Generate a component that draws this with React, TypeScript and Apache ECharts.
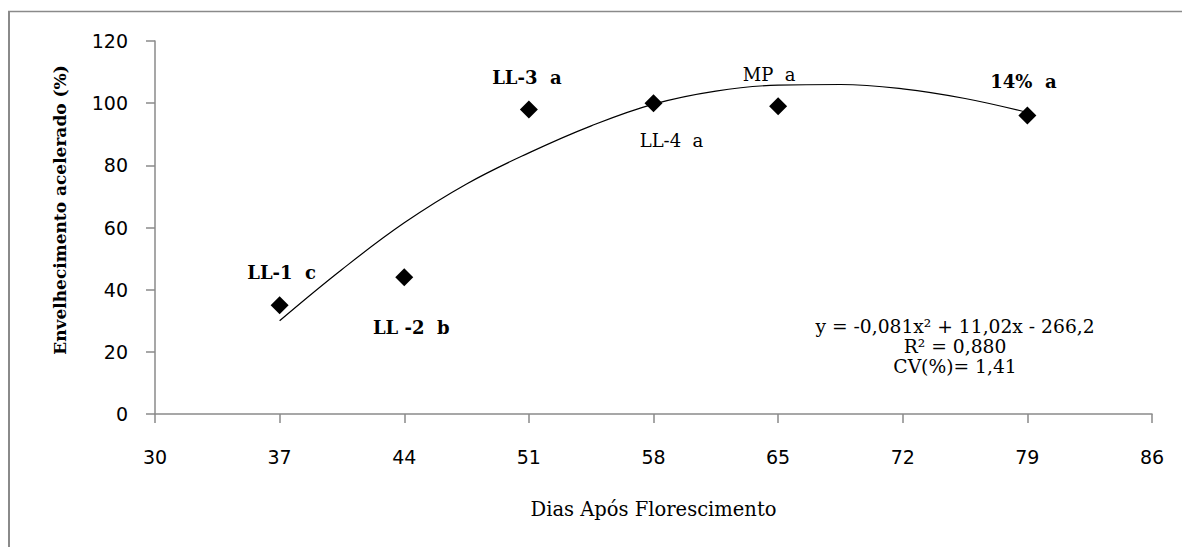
import React, { useEffect, useRef } from "react";
import * as echarts from "echarts";

// Observed points (Dias Após Florescimento, Envelhecimento acelerado %)
const pointDays = [37, 44, 51, 58, 65, 79];
const pointValues = [35, 44, 98, 100, 99, 96];
const pointNames = ["LL-1", "LL -2", "LL-3", "LL-4", "MP", "14%"];
const pointLetters = ["c", "b", "a", "a", "a", "a"];

// Fitted curve
const curveDays = [37, 40.5, 44, 47.5, 51, 54.5, 58, 61.5, 65, 68.5, 72, 75.5, 79];
const curveValues = [30, 46.5, 61.5, 74, 84, 92.7, 99.7, 103.9, 105.8, 106, 104.6, 101.5, 97];

const xTicks = [30, 86, 7];
const yTicks = [0, 120, 20];

const equationLines = ["y = -0,081x\u00b2 + 11,02x - 266,2", "R\u00b2 = 0,880", "CV(%)= 1,41"];

const labelOffsets: number[][] = [
  [2, -33],
  [7, 50],
  [-2, -32],
  [18, 37],
  [-9, -32],
  [-4, -34],
];
const labelWeights = ["bold", "bold", "bold", "normal", "normal", "bold"];

export default function App() {
  const ref = useRef<HTMLDivElement>(null);
  useEffect(() => {
    if (!ref.current) return;
    const chart = echarts.init(ref.current, undefined, { renderer: "svg" });
    const serif = "'DejaVu Serif', 'Liberation Serif', serif";
    const axisColor = "#8a8a8a";
    chart.setOption({
      animation: false,
      backgroundColor: "#fff",
      grid: { left: 155, right: 30, top: 41, bottom: 133, containLabel: false },
      xAxis: {
        type: "value",
        min: xTicks[0],
        max: xTicks[1],
        interval: xTicks[2],
        name: "Dias Após Florescimento",
        nameLocation: "middle",
        nameGap: 85,
        nameTextStyle: { fontFamily: serif, fontSize: 19.5, color: "#000", verticalAlign: "top" },
        axisLine: { onZero: false, lineStyle: { color: axisColor, width: 1.5 } },
        axisTick: { show: true, length: 9, lineStyle: { color: axisColor, width: 1.5 } },
        axisLabel: { margin: 33, fontFamily: "'DejaVu Sans', sans-serif", fontSize: 19, color: "#000" },
        splitLine: { show: false },
      },
      yAxis: {
        type: "value",
        min: yTicks[0],
        max: yTicks[1],
        interval: yTicks[2],
        axisLine: { show: true, lineStyle: { color: axisColor, width: 1.5 } },
        axisTick: { show: true, length: 9, lineStyle: { color: axisColor, width: 1.5 } },
        axisLabel: { margin: 27, fontFamily: "'DejaVu Sans', sans-serif", fontSize: 19, color: "#000" },
        splitLine: { show: false },
      },
      graphic: [
        {
          type: "line",
          shape: { x1: 9, y1: 11, x2: 9, y2: 547 },
          style: { stroke: "#8a8a8a", lineWidth: 2 },
        },
        {
          type: "line",
          shape: { x1: 8, y1: 11.5, x2: 1182, y2: 11.5 },
          style: { stroke: "#8a8a8a", lineWidth: 1.5 },
        },
        {
          type: "text",
          x: 60,
          y: 210,
          rotation: Math.PI / 2,
          style: {
            text: "Envelhecimento acelerado (%)",
            font: "bold 17px " + serif,
            fill: "#000",
            align: "center",
            verticalAlign: "middle",
          },
        },
        ...equationLines.map((t, i) => ({
          type: "text",
          x: 955,
          y: 326 + i * 20,
          style: {
            text: t,
            font: "18.7px " + serif,
            fill: "#000",
            align: "center",
            verticalAlign: "middle",
          },
        })),
      ],
      series: [
        {
          type: "line",
          data: curveDays.map((d, i) => [d, curveValues[i]]),
          smooth: 0.4,
          showSymbol: false,
          symbol: "none",
          lineStyle: { color: "#000", width: 1.2 },
          z: 2,
        },
        {
          type: "scatter",
          symbol: "diamond",
          symbolSize: 18,
          itemStyle: { color: "#000", opacity: 1 },
          z: 3,
          data: pointDays.map((d, i) => ({
            value: [d, pointValues[i]],
            label: {
              show: true,
              position: "inside",
              offset: labelOffsets[i],
              formatter: pointNames[i] + "  " + pointLetters[i],
              fontFamily: serif,
              fontSize: 18,
              fontWeight: labelWeights[i],
              color: "#000",
              align: "center",
              verticalAlign: "middle",
            },
          })),
        },
      ],
    });
    return () => chart.dispose();
  }, []);
  return (
    <div
      ref={ref}
      style={{ position: "absolute", left: 0, top: 0, width: 1182, height: 547 }}
    />
  );
}
